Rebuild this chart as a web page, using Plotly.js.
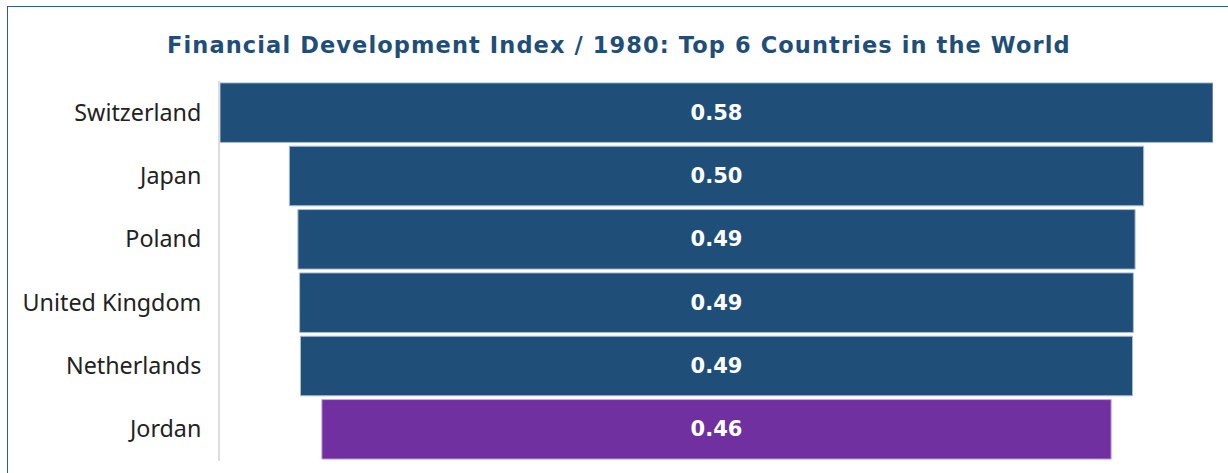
<!DOCTYPE html>
<html>
<head>
<meta charset="utf-8">
<script src="https://cdn.plot.ly/plotly-3.0.1.min.js"></script>
<style>
  html, body { margin: 0; padding: 0; background: #fff; overflow: hidden; }
  #chart { position: absolute; left: 0; top: 0; width: 1228px; height: 473px; }
  #frame { position: absolute; left: 7px; top: 6px; width: 1260px; height: 520px;
           border: 1.5px solid #2e5e94; pointer-events: none; box-sizing: border-box; }
  #chart .gtitle { letter-spacing: 1.1px; }
</style>
</head>
<body>
<div id="chart"></div>
<div id="frame"></div>
<script>
const countries = ["Switzerland", "Japan", "Poland", "United Kingdom", "Netherlands", "Jordan"];
const values = [0.580, 0.499, 0.489, 0.487, 0.486, 0.461];
const barColors = ["#1f4e79", "#1f4e79", "#1f4e79", "#1f4e79", "#1f4e79", "#7030a0"];
const lineColors = ["#a9bdd3", "#a9bdd3", "#a9bdd3", "#a9bdd3", "#a9bdd3", "#c8a6de"];
const chartTitle = "Financial Development Index / 1980: Top 6 Countries in the World";

const maxVal = Math.max(...values);

const trace = {
  type: "funnel",
  y: countries,
  x: values,
  marker: { color: barColors, line: { color: lineColors, width: 1 } },
  connector: { visible: false },
  texttemplate: "%{x:.2f}",
  textposition: "inside",
  insidetextanchor: "middle",
  textfont: { family: "DejaVu Sans", size: 21, color: "#ffffff", weight: "bold" },
  hoverinfo: "y+x"
};

const layout = {
  width: 1228,
  height: 473,
  margin: { l: 220, r: 15, t: 81, b: 12 },
  paper_bgcolor: "#ffffff",
  plot_bgcolor: "#ffffff",
  funnelgap: 0.06,
  showlegend: false,
  title: {
    text: "<b>" + chartTitle + "</b>",
    x: 0.504,
    xanchor: "center",
    y: 0.905,
    yanchor: "middle",
    font: { family: "DejaVu Sans", size: 22.5, color: "#1f4e79" }
  },
  xaxis: {
    range: [-maxVal / 2, maxVal / 2],
    visible: false,
    fixedrange: true
  },
  yaxis: {
    autorange: "reversed",
    showline: true,
    linecolor: "#dddddd",
    linewidth: 2,
    ticks: "outside",
    ticklen: 12,
    tickcolor: "rgba(0,0,0,0)",
    tickfont: { family: "Noto Sans", size: 23.3, color: "#222222" },
    showgrid: false,
    zeroline: false
  }
};

Plotly.newPlot("chart", [trace], layout, { displayModeBar: false, staticPlot: true });
</script>
</body>
</html>
